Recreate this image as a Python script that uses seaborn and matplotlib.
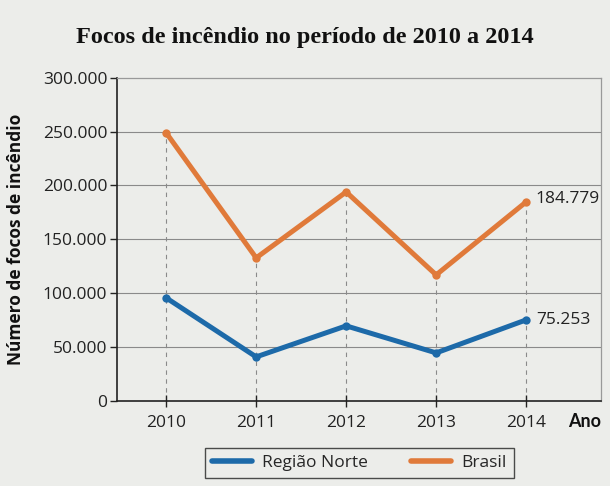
import matplotlib
matplotlib.use("Agg")
import matplotlib.pyplot as plt
import seaborn as sns
import pandas as pd
from matplotlib.lines import Line2D

anos = [2010, 2011, 2012, 2013, 2014]
regiao_norte = [95700, 40900, 69700, 44600, 75253]
brasil = [248900, 132800, 194000, 117000, 184779]
series_nomes = ["Região Norte", "Brasil"]
y_ticks = [0, 50000, 100000, 150000, 200000, 250000, 300000]
y_tick_labels = ["0", "50.000", "100.000", "150.000", "200.000", "250.000", "300.000"]
rotulos_finais = ["75.253", "184.779"]

df = pd.DataFrame({
    "Ano": anos * 2,
    "Focos": regiao_norte + brasil,
    "Série": [series_nomes[0]] * len(anos) + [series_nomes[1]] * len(anos),
})

sns.set_theme(style="white")
plt.rcParams["font.family"] = ["Open Sans", "DejaVu Sans"]

bg = "#ecedea"
fig = plt.figure(figsize=(6.1, 4.86), dpi=100, facecolor=bg)
ax = fig.add_axes([0.192, 0.175, 0.793, 0.665], facecolor=bg)

cores = {"Região Norte": "#1d6aa9", "Brasil": "#e07a3a"}

# grid
for t in y_ticks[1:-1]:
    ax.axhline(t, color="#8a8a8a", lw=0.8, zorder=0)
ax.vlines(anos, 0, brasil, colors="#8a8a8a", linestyles=(0, (4, 4)), lw=0.8, zorder=0)

sns.lineplot(data=df, x="Ano", y="Focos", hue="Série", palette=cores,
             linewidth=3.6, marker="o", markersize=6, markeredgewidth=0,
             ax=ax, legend=False, zorder=3)

ax.set_xlim(2009.455, 2014.83)
ax.set_ylim(0, 300000)
ax.set_yticks(y_ticks)
ax.set_yticklabels(y_tick_labels, fontsize=12.5, color="#222222")
ax.set_xticks(anos)
ax.set_xticklabels([str(a) for a in anos], fontsize=12.5, color="#222222")
ax.tick_params(axis="y", direction="out", length=5, width=1, color="#222222", left=True, pad=2)
ax.tick_params(axis="x", direction="inout", length=8, width=1, color="#222222", bottom=True, pad=6)

for s in ["left", "bottom"]:
    ax.spines[s].set_color("#222222")
    ax.spines[s].set_linewidth(1.2)
for s in ["top", "right"]:
    ax.spines[s].set_color("#999999")
    ax.spines[s].set_linewidth(0.9)

ax.set_xlabel("")
ax.set_ylabel("Número de focos de incêndio", fontsize=12.5, fontweight="bold", color="#111111")
ax.yaxis.set_label_coords(-0.19, 0.5)

ax.text(2014.47, -19000, "Ano", fontsize=13, fontweight="bold", family=["Lato", "DejaVu Sans"],
        color="#111111", ha="left", va="center", clip_on=False)
ax.annotate(rotulos_finais[1], (anos[-1], brasil[-1]), xytext=(7, 2), textcoords="offset points",
            fontsize=12.5, color="#222222", ha="left", va="center")
ax.annotate(rotulos_finais[0], (anos[-1], regiao_norte[-1]), xytext=(7, 0), textcoords="offset points",
            fontsize=12.5, color="#222222", ha="left", va="center")

fig.text(0.5, 0.922, "Focos de incêndio no período de 2010 a 2014", ha="center", va="center",
         fontsize=17.5, fontweight="bold", family=["Liberation Serif"], color="#111111")

handles = [Line2D([0], [0], color=cores[n], lw=4) for n in series_nomes]
leg = fig.legend(handles, series_nomes, loc="center", bbox_to_anchor=(0.589, 0.0475),
                 ncol=2, frameon=True, fontsize=12.5, handlelength=2.3, columnspacing=2.5,
                 borderpad=0.4, handletextpad=0.6, fancybox=False)
leg.get_frame().set_edgecolor("#222222")
leg.get_frame().set_facecolor(bg)
leg.get_frame().set_linewidth(1.0)

fig.savefig("out.png", dpi=100, facecolor=bg)
